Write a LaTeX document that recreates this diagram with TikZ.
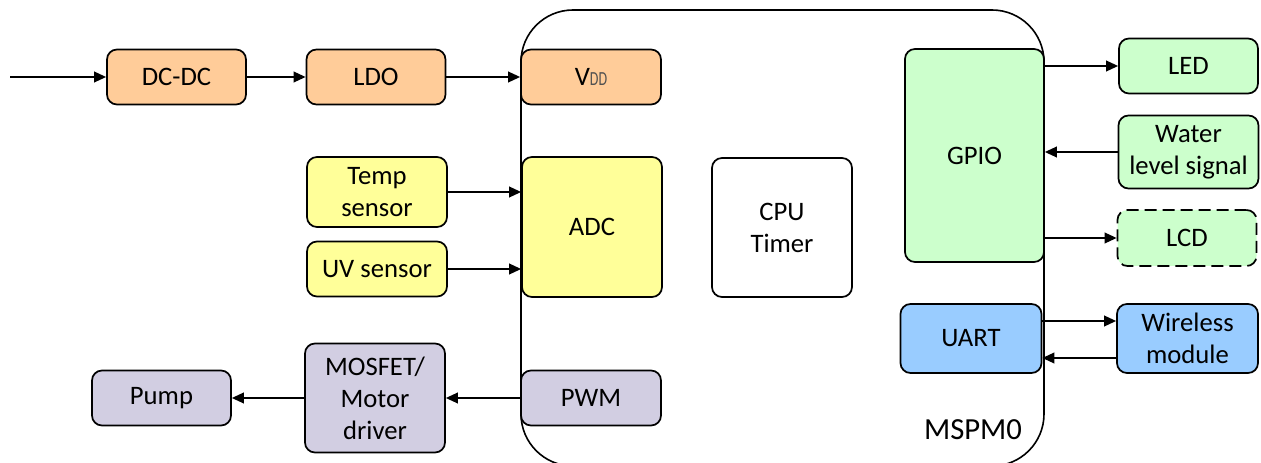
\documentclass[tikz,border=0pt]{standalone}
\usepackage{fontspec}
\usepackage{graphicx}
\setmainfont{Carlito}
\usetikzlibrary{arrows.meta}
\definecolor{orng}{RGB}{255,204,153}
\definecolor{yel}{RGB}{255,255,153}
\definecolor{grn}{RGB}{204,255,204}
\definecolor{blu}{RGB}{153,204,255}
\definecolor{prp}{RGB}{210,206,226}
\definecolor{ddgray}{RGB}{80,80,80}
\begin{document}
\begin{tikzpicture}[x=0.75pt,y=-0.75pt,
  blk/.style={draw, line width=1.3pt, rounded corners=7.5pt, align=center,
    font=\fontsize{20}{24}\selectfont, inner sep=0pt},
  sz/.style 2 args={minimum width=#1*0.75pt, minimum height=#2*0.75pt},
  conn/.style={line width=1.3pt, -{Triangle[length=9pt,width=8pt]}}]
\useasboundingbox (0,0) rectangle (1261,463);
\clip (0,0) rectangle (1261,463);
\fill[white] (0,0) rectangle (1261,463);
% MCU outline
\draw[line width=1.2pt, rounded corners=39pt] (521,10) rectangle (1044,466);
% blocks
\node[blk, fill=orng, sz={139}{55}] (dcdc) at (176.5,77) {DC-DC};
\node[blk, fill=orng, sz={139}{55}] (ldo) at (376,77) {LDO};
\node[blk, fill=orng, sz={140}{55}] (vdd) at (591,77) {V\scalebox{0.7}[1]{\fontsize{15}{15}\selectfont\color{ddgray}DD}};
\node[blk, fill=yel, sz={140}{70}] (temp) at (377,192) {Temp\\sensor};
\node[blk, fill=yel, sz={140}{55}] (uv) at (377,269) {UV sensor};
\node[blk, fill=yel, sz={140}{140}] (adc) at (592,227) {ADC};
\node[blk, fill=white, sz={140}{139}] (cpu) at (782,227.5) {CPU\\Timer};
\node[blk, fill=grn, sz={139}{213}] (gpio) at (974.5,155.5) {GPIO};
\node[blk, fill=grn, sz={139}{55}] (led) at (1188.5,66) {LED};
\node[blk, fill=grn, sz={140}{73}] (water) at (1188.5,152) {Water\\level signal};
\node[blk, fill=grn, dashed, dash pattern=on 9pt off 4.5pt, sz={139}{56}] (lcd) at (1187,238) {LCD};
\node[blk, fill=blu, sz={141}{69}] (uart) at (971,338.5) {UART};
\node[blk, fill=blu, sz={141}{69}] (wless) at (1187.5,338.5) {Wireless\\module};
\node[blk, fill=prp, sz={139}{55}] (pump) at (161.5,398) {Pump};
\node[blk, fill=prp, sz={140}{109}] (mos) at (375,398) {MOSFET/\\Motor\\driver};
\node[blk, fill=prp, sz={140}{55}] (pwm) at (591,398) {PWM};
\node[font=\fontsize{23}{27}\selectfont, inner sep=0pt] (lbl) at (973,430) {MSPM0};
% connectors
\coordinate (in) at (10,77);
\draw[conn] (in) -- (dcdc.west);
\draw[conn] (dcdc.east) -- (ldo.west);
\draw[conn] (ldo.east) -- (vdd.west);
\draw[conn] (temp.east) -- (temp.east -| adc.west);
\draw[conn] (uv.east) -- (uv.east -| adc.west);
\draw[conn] (led.west -| gpio.east) -- (led.west);
\draw[conn] (water.west) -- (water.west -| gpio.east);
\draw[conn] (lcd.west -| gpio.east) -- (lcd.west);
\draw[conn] ([yshift=13.125pt]uart.east) -- ([yshift=13.125pt]wless.west);
\draw[conn] ([yshift=-14.625pt]wless.west) -- ([yshift=-14.625pt]uart.east);
\draw[conn] (pwm.west) -- (mos.east);
\draw[conn] (mos.west) -- (pump.east);
\end{tikzpicture}
\end{document}
